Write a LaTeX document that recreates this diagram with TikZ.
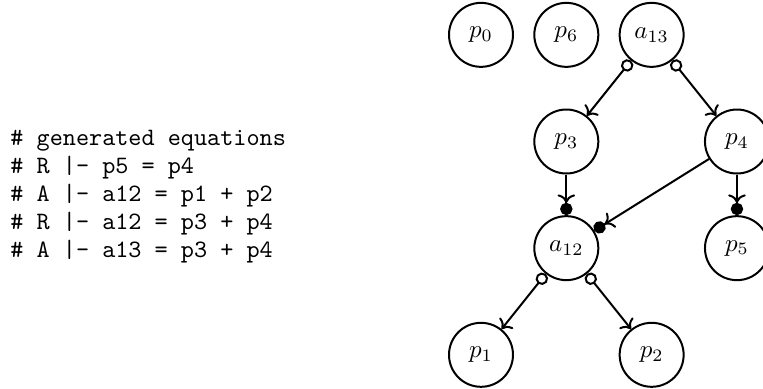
\documentclass[tikz,border=0pt]{standalone}
\usepackage{amsmath}
\usepackage{tikz}
\usetikzlibrary{arrows.meta, positioning}

\tikzset{
  var/.style = {circle, draw, thick, minimum size=0.9cm, inner sep=0pt},
  pick/.style = {thick, {Circle[open]}-{To[]}},
  need/.style = {thick, -{To[] Circle[]}},
}

\begin{document}
\begin{tikzpicture}[node distance = 1.5cm]
    \useasboundingbox (-6.765,0.49) rectangle (3.966,-4.98);
    \node[var] (p0) {$p_0$};
    \node[var, right of=p0, node distance=1.2cm] (p6) {$p_6$};
    \node[var, right of=p6, node distance=1.2cm] (a13) {$a_{13}$};
    \node[var, below of=p6] (p3) {$p_3$};
    \node[var, below of=a13, xshift=1.2cm] (p4) {$p_4$};
    \node[var, below of=p3] (a12) {$a_{12}$};
    \node[var, below of=p4] (p5) {$p_5$};
    \node[var, below of=a12, xshift=-1.2cm] (p1) {$p_1$};
    \node[var, below of=a12, xshift=1.2cm] (p2) {$p_2$};
    \node[anchor=west, inner sep=0pt, align=left, font=\ttfamily\fontsize{10}{11.2}\selectfont] (eqs) at (-6.625,-2.28)
        {\# generated equations\\
         \# R |- p5 = p4\\
         \# A |- a12 = p1 + p2\\
         \# R |- a12 = p3 + p4\\
         \# A |- a13 = p3 + p4};
    \draw[pick] (a13) to (p3);
    \draw[pick] (a13) to (p4);
    \draw[need] (p3) to (a12);
    \draw[need] (p4) to (a12);
    \draw[need] (p4) to (p5);
    \draw[pick] (a12) to (p1);
    \draw[pick] (a12) to (p2);
\end{tikzpicture}
\end{document}
